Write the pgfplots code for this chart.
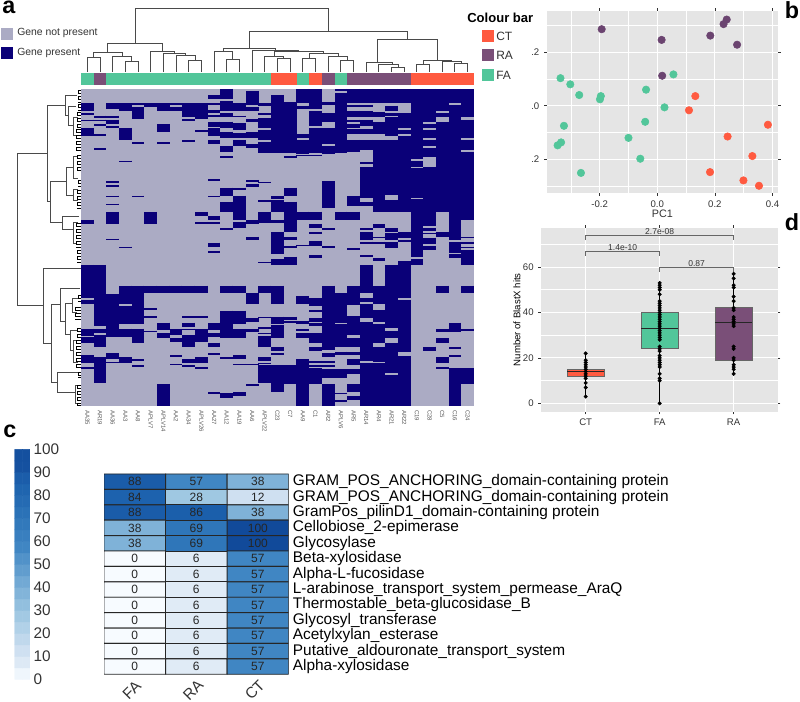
\documentclass[border=0pt]{standalone}
\usepackage{fontspec}
\setmainfont{Liberation Sans}
\usepackage{pgfplots}
\usepackage{pgfplotstable}
\pgfplotsset{compat=1.18}
\pgfplotsset{/pgf/number format/assume math mode=true}

\newcommand{\fs}[1]{\fontsize{#1pt}{#1pt}\selectfont}
\definecolor{absent}{HTML}{ABABC4}
\definecolor{present}{HTML}{0A0078}
\definecolor{ctc}{HTML}{FF5A40}
\definecolor{rac}{HTML}{7A4F78}
\definecolor{rad}{HTML}{6B4470}
\definecolor{fac}{HTML}{52C69A}
\definecolor{panel}{HTML}{E5E5E5}
\definecolor{tree}{HTML}{4A4A4A}
\definecolor{ink}{HTML}{333333}

% panel a: dark runs per column, c = column, a b = start and end (3 units = 1 px, 0 = y 85)
\pgfplotstableread[row sep=\\]{c a b\\
0 55 78\\ 0 85 90\\ 0 104 109\\ 0 129 152\\ 0 405 416\\
1 92 98\\ 1 104 109\\ 1 117 122\\ 1 147 152\\ 1 190 195\\
2 55 72\\ 2 92 98\\ 2 104 116\\ 2 124 129\\ 2 289 293\\ 2 301 305\\ 2 332 337\\ 2 356 360\\ 2 381 416\\ 2 461 466\\
3 55 78\\ 3 129 165\\ 3 227 232\\ 3 485 490\\
4 55 60\\ 4 66 103\\ 4 172 176\\ 4 332 337\\
5 55 66\\ 5 381 416\\
6 55 78\\ 6 117 140\\ 6 172 176\\
7 55 60\\ 7 66 78\\
8 55 97\\ 8 103 108\\ 8 165 170\\
9 55 103\\ 9 135 140\\ 9 381 393\\ 9 411 416\\
10 30 42\\ 10 55 60\\ 10 75 85\\ 10 90 95\\ 10 110 125\\ 10 130 153\\ 10 165 177\\ 10 283 288\\ 10 332 337\\ 10 393 405\\ 10 411 416\\ 10 473 485\\
11 12 42\\ 11 48 78\\ 11 85 95\\ 11 110 130\\ 11 140 158\\ 11 183 202\\ 11 214 220\\ 11 308 332\\ 11 350 381\\ 11 429 434\\
12 55 78\\ 12 92 97\\ 12 115 135\\ 12 143 158\\ 12 165 183\\ 12 308 314\\ 12 332 405\\ 12 411 428\\
13 18 60\\ 13 66 78\\ 13 103 110\\ 13 140 160\\ 13 176 190\\ 13 285 290\\ 13 297 307\\ 13 405 416\\ 13 455 466\\
14 55 62\\ 14 85 90\\ 14 100 130\\ 14 135 165\\ 14 170 203\\ 14 290 295\\ 14 345 350\\ 14 380 415\\
15 30 203\\ 15 332 343\\ 15 345 380\\ 15 405 415\\ 15 440 495\\
16 52 203\\ 16 213 220\\ 16 308 332\\ 16 350 440\\ 16 455 465\\ 16 483 490\\
17 12 55\\ 17 62 72\\ 17 147 158\\ 17 165 208\\ 17 210 214\\ 17 380 405\\ 17 480 484\\
18 12 72\\ 18 78 122\\ 18 130 205\\ 18 209 214\\ 18 380 405\\ 18 417 430\\ 18 440 448\\ 18 467 484\\
19 52 60\\ 19 85 110\\ 19 130 177\\ 19 183 207\\ 19 289 368\\ 19 430 435\\ 19 484 490\\
20 12 18\\ 20 24 205\\ 20 380 405\\
21 12 55\\ 21 60 66\\ 21 78 97\\ 21 104 110\\ 21 118 128\\ 21 133 147\\ 21 165 200\\ 21 332 362\\ 21 380 405\\ 21 490 495\\
22 12 55\\ 22 60 66\\ 22 78 97\\ 22 104 122\\ 22 133 147\\ 22 165 195\\ 22 232 236\\ 22 246 340\\ 22 350 362\\ 22 430 435\\ 22 442 465\\ 22 470 476\\
23 12 55\\ 23 80 97\\ 23 110 147\\ 23 165 380\\ 23 417 430\\ 23 455 460\\ 23 470 476\\
24 12 55\\ 24 62 78\\ 24 85 92\\ 24 97 152\\ 24 165 330\\ 24 345 380\\ 24 430 440\\ 24 445 465\\ 24 470 490\\
25 12 55\\ 25 85 130\\ 25 135 147\\ 25 153 380\\ 25 442 460\\ 25 465 470\\
26 12 222\\ 26 228 245\\ 26 250 338\\ 26 343 495\\
27 12 110\\ 27 117 128\\ 27 135 158\\ 27 165 182\\ 27 190 215\\ 27 245 424\\ 27 430 438\\ 27 443 448\\ 27 458 478\\ 27 484 495\\
28 12 78\\ 28 85 97\\ 28 110 380\\ 28 440 455\\
29 12 55\\ 29 60 465\\ 29 472 495\\
30 12 97\\ 30 104 160\\ 30 165 195\\ 30 202 405\\ 30 455 458\\ 30 472 476\\ 30 485 490\\
}\darkupper

% same, lower half (0 = y 250)
\pgfplotstableread[row sep=\\]{c a b\\
0 45 143\\ 0 150 162\\ 0 236 258\\ 0 262 278\\ 0 316 340\\ 0 352 358\\
1 45 228\\ 1 236 250\\ 1 255 290\\ 1 322 400\\
2 132 262\\ 2 310 327\\ 2 335 340\\
3 107 162\\ 3 168 222\\ 3 236 262\\ 3 322 340\\
4 107 222\\ 4 236 278\\ 4 328 333\\ 4 346 352\\
5 107 130\\ 5 175 180\\ 5 199 204\\ 5 243 247\\
6 107 130\\ 6 218 241\\ 6 250 265\\ 6 402 468\\
7 107 130\\ 7 237 255\\ 7 265 277\\ 7 316 321\\ 7 342 346\\
8 107 130\\ 8 199 204\\ 8 218 230\\ 8 236 241\\ 8 255 290\\ 8 328 340\\ 8 346 352\\
9 107 130\\ 9 199 204\\ 9 237 277\\ 9 322 340\\ 9 352 358\\
10 2 8\\ 10 218 241\\ 10 248 262\\ 10 278 290\\ 10 310 315\\ 10 427 432\\
11 107 130\\ 11 182 236\\ 11 237 265\\ 11 322 327\\ 11 430 443\\
12 107 130\\ 12 182 222\\ 12 237 265\\ 12 316 327\\ 12 342 346\\ 12 427 437\\
13 130 162\\ 13 205 216\\ 13 237 247\\ 13 342 346\\ 13 402 407\\
14 35 40\\ 14 107 130\\ 14 200 204\\ 14 232 236\\ 14 248 253\\ 14 258 290\\ 14 322 333\\ 14 338 342\\ 14 346 400\\
15 0 12\\ 15 27 45\\ 15 107 162\\ 15 200 222\\ 15 225 265\\ 15 290 302\\ 15 308 316\\ 15 346 425\\
16 20 45\\ 16 200 210\\ 16 212 218\\ 16 346 402\\
17 138 162\\ 17 212 222\\ 17 237 243\\ 17 250 265\\ 17 328 468\\
18 15 25\\ 18 144 168\\ 18 180 186\\ 18 205 216\\ 18 220 228\\ 18 250 280\\ 18 290 302\\ 18 333 338\\ 18 346 352\\ 18 355 402\\
19 107 300\\ 19 310 322\\ 19 333 338\\ 19 346 352\\ 19 358 385\\ 19 402 468\\
20 130 218\\ 20 223 290\\ 20 305 315\\ 20 358 385\\ 20 428 433\\ 20 450 456\\
21 107 165\\ 21 198 255\\ 21 265 290\\ 21 305 316\\ 21 328 346\\ 21 358 372\\ 21 402 427\\ 21 437 450\\
22 15 20\\ 22 45 130\\ 22 143 155\\ 22 162 205\\ 22 216 333\\ 22 340 468\\
23 25 32\\ 23 107 162\\ 23 180 217\\ 23 223 278\\ 23 290 335\\ 23 340 468\\
24 45 235\\ 24 243 265\\ 24 278 368\\ 24 375 468\\
25 32 143\\ 25 150 305\\ 25 318 468\\
26 0 20\\ 26 27 45\\
27 290 302\\
28 107 130\\ 28 237 247\\ 28 265 278\\ 28 322 340\\ 28 352 358\\
29 0 8\\ 29 12 25\\ 29 218 247\\ 29 290 296\\ 29 316 321\\ 29 355 468\\
30 0 45\\ 30 107 130\\ 30 236 242\\ 30 355 402\\
}\darklower

% panel c
\pgfplotstableread{
x y v
0 0 88
1 0 57
2 0 38
0 1 84
1 1 28
2 1 12
0 2 88
1 2 86
2 2 38
0 3 38
1 3 69
2 3 100
0 4 38
1 4 69
2 4 100
0 5 0
1 5 6
2 5 57
0 6 0
1 6 6
2 6 57
0 7 0
1 7 6
2 7 57
0 8 0
1 8 6
2 8 57
0 9 0
1 9 6
2 9 57
0 10 0
1 10 6
2 10 57
0 11 0
1 11 6
2 11 57
0 12 0
1 12 6
2 12 57
}\percent

\pgfplotsset{
  blues/.style={colormap={blues}{rgb255(0)=(247,251,255) rgb255(6)=(224,235,246)
    rgb255(12)=(207,224,241) rgb255(28)=(159,200,226) rgb255(38)=(127,178,216)
    rgb255(57)=(64,134,195) rgb255(69)=(47,118,185) rgb255(84)=(29,98,174)
    rgb255(100)=(17,74,154)}, point meta min=0, point meta max=100},
  gg/.style={
    scale only axis, axis background/.style={fill=panel},
    axis line style={draw=none}, grid=both,
    major grid style={white, line width=0.75pt},
    minor grid style={white, line width=0.4pt},
    tick align=outside, major tick length=2pt, minor tick length=0pt,
    tick style={ink, line width=0.4pt},
    tick label style={font=\fs{7.2}, text=ink},
  },
}

\begin{document}
\begin{tikzpicture}
\useasboundingbox (0,0) rectangle (600pt,526.5pt);

% canvas in reference pixels: trees, swatches, texts
\begin{axis}[
  at={(0,0)}, anchor=south west, scale only axis, width=600pt, height=526.5pt,
  xmin=0, xmax=800, ymin=0, ymax=702, y dir=reverse, hide axis, clip=false,
  unbounded coords=jump]

\addplot[fill=absent, draw=none] coordinates {(0.7,28)(13,28)(13,40)(0.7,40)} --cycle;
\addplot[fill=present, draw=none] coordinates {(0.7,47)(13,47)(13,59)(0.7,59)} --cycle;
\addplot[fill=fac, draw=none] coordinates {(81,72.7)(93.7,72.7)(93.7,85.3)(81,85.3)} --cycle;
\addplot[fill=rac, draw=none] coordinates {(93.7,72.7)(106.4,72.7)(106.4,85.3)(93.7,85.3)} --cycle;
\addplot[fill=fac, draw=none] coordinates {(106.4,72.7)(271.3,72.7)(271.3,85.3)(106.4,85.3)} --cycle;
\addplot[fill=ctc, draw=none] coordinates {(271.3,72.7)(296.7,72.7)(296.7,85.3)(271.3,85.3)} --cycle;
\addplot[fill=fac, draw=none] coordinates {(296.7,72.7)(309.3,72.7)(309.3,85.3)(296.7,85.3)} --cycle;
\addplot[fill=ctc, draw=none] coordinates {(309.3,72.7)(322,72.7)(322,85.3)(309.3,85.3)} --cycle;
\addplot[fill=rac, draw=none] coordinates {(322,72.7)(334.7,72.7)(334.7,85.3)(322,85.3)} --cycle;
\addplot[fill=fac, draw=none] coordinates {(334.7,72.7)(347.4,72.7)(347.4,85.3)(334.7,85.3)} --cycle;
\addplot[fill=rac, draw=none] coordinates {(347.4,72.7)(411,72.7)(411,85.3)(347.4,85.3)} --cycle;
\addplot[fill=ctc, draw=none] coordinates {(411,72.7)(474,72.7)(474,85.3)(411,85.3)} --cycle;
\addplot[fill=ctc, draw=none] coordinates {(482,30)(494,30)(494,42)(482,42)} --cycle;
\addplot[fill=rac, draw=none] coordinates {(482,49)(494,49)(494,61)(482,61)} --cycle;
\addplot[fill=fac, draw=none] coordinates {(482,69)(494,69)(494,81)(482,81)} --cycle;

% top tree
\addplot[tree, line width=0.6pt] coordinates {
(135,43.7)(135,8.3)(328.7,8.3)(328.7,31.7)(nan,nan)
(107.7,52.3)(107.7,43.7)(162.7,43.7)(162.7,51)(nan,nan)
(93.7,57.3)(93.7,52.3)(122,52.3)(122,56)(nan,nan)
(87.3,71.7)(87.3,57.3)(100,57.3)(100,71.7)(nan,nan)
(112.7,71.7)(112.7,56)(131.7,56)(131.7,61)(nan,nan)
(125.3,71.7)(125.3,61)(138,61)(138,71.7)(nan,nan)
(150.7,71.7)(150.7,51)(174.7,51)(174.7,53.3)(nan,nan)
(163.3,71.7)(163.3,53.3)(185,53.3)(185,55)(nan,nan)
(176,71.7)(176,55)(195,55)(195,60.3)(nan,nan)
(188.7,71.7)(188.7,60.3)(201.3,60.3)(201.3,71.7)(nan,nan)
(249.7,48.3)(249.7,31.7)(407.7,31.7)(407.7,39.7)(nan,nan)
(223.3,51.7)(223.3,48.3)(275.3,48.3)(275.3,50.7)(nan,nan)
(214,71.7)(214,51.7)(232.7,51.7)(232.7,59.7)(nan,nan)
(226.7,71.7)(226.7,59.7)(239.3,59.7)(239.3,71.7)(nan,nan)
(252,71.7)(252,50.7)(298,50.7)(298,51.7)(nan,nan)
(274.3,56.7)(274.3,51.7)(323.3,51.7)(323.3,53.3)(nan,nan)
(264.7,71.7)(264.7,56.7)(283.7,56.7)(283.7,58.7)(nan,nan)
(277.3,71.7)(277.3,58.7)(290,58.7)(290,71.7)(nan,nan)
(309,58.7)(309,53.3)(338.3,53.3)(338.3,56.7)(nan,nan)
(302.7,71.7)(302.7,58.7)(315.3,58.7)(315.3,71.7)(nan,nan)
(328,71.7)(328,56.7)(347,56.7)(347,60)(nan,nan)
(340.7,71.7)(340.7,60)(353.3,60)(353.3,71.7)(nan,nan)
(377.3,62.3)(377.3,39.7)(437.7,39.7)(437.7,60)(nan,nan)
(366,71.7)(366,62.3)(392.3,62.3)(392.3,64.7)(nan,nan)
(378.7,71.7)(378.7,64.7)(398,64.7)(398,67)(nan,nan)
(391.3,71.7)(391.3,67)(404,67)(404,71.7)(nan,nan)
(423,64.7)(423,60)(451.7,60)(451.7,61)(nan,nan)
(416.7,71.7)(416.7,64.7)(429.3,64.7)(429.3,71.7)(nan,nan)
(442,71.7)(442,61)(461,61)(461,63.3)(nan,nan)
(454.7,71.7)(454.7,63.3)(467.3,63.3)(467.3,71.7)
};

% left tree
\addplot[tree, line width=0.6pt] coordinates {
(47,153)(17.5,153)(17.5,305)(43,305)(nan,nan)
(65,105)(47,105)(47,201.7)(50,201.7)(nan,nan)
(77,95)(65,95)(65,115)(68,115)(nan,nan)
(76,106)(68,106)(68,125)(73,125)(nan,nan)
(78,117)(73,117)(73,135)(76,135)(nan,nan)
(66,181)(50,181)(50,222)(62,222)(nan,nan)
(73,167)(66,167)(66,195)(73,195)(nan,nan)
(78,156)(73,156)(73,178)(78,178)(nan,nan)
(78,189)(73,189)(73,200)(78,200)(nan,nan)
(79,216)(62,216)(62,229)(73,229)(nan,nan)
(78,222)(73,222)(73,243)(77,243)(nan,nan)
(81,268)(43,268)(43,343)(51,343)(nan,nan)
(60,304)(51,304)(51,382)(57,382)(nan,nan)
(80,288)(60,288)(60,321)(65,321)(nan,nan)
(72,303)(65,303)(65,334)(70,334)(nan,nan)
(78,298)(72,298)(72,312)(77,312)(nan,nan)
(78,330)(70,330)(70,350)(73,350)(nan,nan)
(78,340)(73,340)(73,362)(78,362)(nan,nan)
(78,372)(57,372)(57,392)(75,392)(nan,nan)
(79,385)(75,385)(75,403)(79,403)
};

% tree tips
\addplot[black, line width=0.4pt] coordinates {
(81,90)(78,90)(78,93)(81,93)(81,96)(78,96)(78,99)(81,99)(81,102)(78,102)(nan,nan)
(81,104)(78,104)(78,107)(81,107)(81,110)(78,110)(nan,nan)
(81,112)(77,112)(77,115)(81,115)(81,118)(77,118)(77,121)(81,121)(81,124)(77,124)(77,127)(81,127)(nan,nan)
(81,129)(76,129)(76,132)(81,132)(81,135)(76,135)(76,138)(81,138)(81,141)(76,141)(76,144)(81,144)(81,147)(76,147)(76,150)(81,150)(nan,nan)
(81,155)(77,155)(77,158)(81,158)(81,161)(77,161)(77,164)(81,164)(81,167)(77,167)(77,170)(81,170)(nan,nan)
(81,180)(78,180)(78,183)(81,183)(81,186)(78,186)(nan,nan)
(81,190)(77,190)(77,193)(81,193)(81,196)(77,196)(77,199)(81,199)(81,202)(77,202)(77,205)(81,205)(81,208)(77,208)(nan,nan)
(81,223)(76,223)(76,226)(81,226)(81,229)(76,229)(76,232)(81,232)(81,235)(76,235)(76,238)(81,238)(81,241)(76,241)(76,244)(81,244)(81,247)(76,247)(nan,nan)
(81,250)(77,250)(77,253)(81,253)(81,256)(77,256)(77,259)(81,259)(81,262)(77,262)(nan,nan)
(81,295)(78,295)(78,298)(81,298)(81,301)(78,301)(nan,nan)
(81,307)(75,307)(75,310)(81,310)(81,313)(75,313)(75,316)(81,316)(81,319)(75,319)(nan,nan)
(81,328)(77,328)(77,331)(81,331)(81,334)(77,334)(77,337)(81,337)(nan,nan)
(81,340)(76,340)(76,343)(81,343)(81,346)(76,346)(76,349)(81,349)(81,352)(76,352)(76,355)(81,355)(81,358)(76,358)(76,361)(81,361)(81,364)(76,364)(76,367)(81,367)(nan,nan)
(81,372)(78,372)(78,375)(81,375)(81,377)(78,377)(nan,nan)
(81,385)(77,385)(77,388)(81,388)(81,391)(77,391)(77,394)(81,394)(81,397)(77,397)(77,400)(81,400)(81,403)(77,403)(77,405)(81,405)
};

% texts
\node[anchor=north west, inner sep=0pt, font=\bfseries\fs{17.5}] at (2,0.5) {a};
\node[anchor=north east, inner sep=0pt, font=\bfseries\fs{17.5}] at (799.5,1) {b};
\node[anchor=north west, inner sep=0pt, font=\bfseries\fs{17.5}] at (3,425) {c};
\node[anchor=north east, inner sep=0pt, font=\bfseries\fs{17.5}] at (799.5,213) {d};
\node[anchor=west, inner sep=0pt, font=\fs{7.8}, text=ink] at (17,33) {Gene not present};
\node[anchor=west, inner sep=0pt, font=\fs{7.8}, text=ink] at (17,53) {Gene present};
\node[anchor=west, inner sep=0pt, font=\bfseries\fs{9.8}] at (467,17.5) {Colour bar};
\node[anchor=west, inner sep=0pt, font=\fs{9}, text=ink] at (496,36) {CT};
\node[anchor=west, inner sep=0pt, font=\fs{9}, text=ink] at (496,55) {RA};
\node[anchor=west, inner sep=0pt, font=\fs{9}, text=ink] at (496,75) {FA};
\end{axis}

% panel a heat map
\begin{axis}[
  at={(60.75pt,222pt)}, anchor=south west, scale only axis, width=294.75pt, height=237.75pt,
  xmin=0, xmax=31, ymin=12, ymax=963, y dir=reverse,
  axis background/.style={fill=absent}, axis line style={draw=none},
  ytick=\empty, major tick length=0pt,
  xtick={0.5,1.5,...,30.5},
  xticklabels={AA35,AR19,AA36,AA3,AA8,APLV7,APLV14,AA2,AA34,APLV26,AA27,AA12,AA19,AA6,APLV22,C23,C7,AA9,C1,AR2,APLV6,AR5,AR14,AR4,AR21,AR22,C19,C28,C5,C16,C24},
  xticklabel style={rotate=-90, anchor=west, font=\fs{4.5}, text=black!65, inner sep=0pt, xshift=3pt},
]
\addplot[draw=none, no markers, error bars/.cd, y dir=plus, y explicit, error mark=none,
  error bar style={present, line width=9.55pt}]
  table[x expr=\thisrow{c}+0.5, y=a, y error expr=\thisrow{b}-\thisrow{a}] {\darkupper};
\addplot[draw=none, no markers, error bars/.cd, y dir=plus, y explicit, error mark=none,
  error bar style={present, line width=9.55pt}]
  table[x expr=\thisrow{c}+0.5, y expr=\thisrow{a}+495, y error expr=\thisrow{b}-\thisrow{a}] {\darklower};
\end{axis}

% panel b
\begin{axis}[gg,
  at={(410pt,381.75pt)}, anchor=south west, width=173.5pt, height=136.5pt,
  xmin=-0.384, xmax=0.419, ymin=-0.326, ymax=0.354,
  xtick={-0.2,0,0.2,0.4}, xticklabels={-0.2,0.0,0.2,0.4},
  minor xtick={-0.3,-0.1,0.1,0.3},
  ytick={-0.2,0,0.2}, yticklabels={.2,.0,.2},
  minor ytick={-0.3,-0.1,0.1,0.3},
  xlabel={PC1}, xlabel style={font=\fs{8.1}, text=ink, yshift=5pt},
]
\addplot[only marks, mark=*, mark size=2.8pt, mark options={draw=rad, fill=rad}] coordinates {
(-0.193,0.286)(0.015,0.246)(0.184,0.262)(0.277,0.228)(0.241,0.322)(0.230,0.305)(0.017,0.112)};
\addplot[only marks, mark=*, mark size=2.8pt, mark options={draw=fac, fill=fac}] coordinates {
(0.056,0.117)(-0.336,0.103)(-0.302,0.080)(-0.271,0.040)(-0.196,0.036)(-0.199,0.024)(-0.039,0.060)
(0.025,-0.006)(-0.042,-0.060)(-0.324,-0.075)(-0.334,-0.137)(-0.346,-0.148)(-0.100,-0.120)(-0.059,-0.198)(-0.265,-0.251)};
\addplot[only marks, mark=*, mark size=2.8pt, mark options={draw=ctc, fill=ctc}] coordinates {
(0.132,0.036)(0.110,-0.017)(0.384,-0.071)(0.244,-0.115)(0.330,-0.188)(0.183,-0.248)(0.299,-0.279)(0.353,-0.299)};
\end{axis}

% panel d
\begin{axis}[gg,
  at={(405.75pt,217.7pt)}, anchor=south west, width=177.5pt, height=138pt,
  xmin=0.396, xmax=3.595, ymin=-3.67, ymax=77.3,
  xtick={1,2,3}, xticklabels={CT,FA,RA}, ytick={0,20,40,60},
  minor ytick={10,30,50,70},
  ylabel={Number of BlastX hits}, ylabel style={font=\fs{7.2}, text=black, yshift=-5pt},
]
\addplot[black, line width=0.5pt] coordinates {(1,3)(1,22)};
\addplot[black, line width=0.5pt] coordinates {(2,0)(2,53)};
\addplot[black, line width=0.5pt] coordinates {(3,13)(3,57)};
\addplot[draw=black!60, line width=0.7pt, fill=ctc] coordinates {(0.75,12)(1.25,12)(1.25,15)(0.75,15)} --cycle;
\addplot[draw=black!60, line width=0.7pt, fill=fac] coordinates {(1.75,24)(2.25,24)(2.25,40)(1.75,40)} --cycle;
\addplot[draw=black!60, line width=0.7pt, fill=rac] coordinates {(2.75,19)(3.25,19)(3.25,42)(2.75,42)} --cycle;
\addplot[black!85, line width=1pt] coordinates {(0.75,14)(1.25,14)};
\addplot[black!85, line width=1pt] coordinates {(1.75,33)(2.25,33)};
\addplot[black!85, line width=1pt] coordinates {(2.75,35.5)(3.25,35.5)};
\addplot[only marks, mark=*, mark size=1.3pt, black] coordinates {
(1,3)(1,7)(1,9)(1,11)(1,12)(1,13)(1,14)(1,15)(1,16)(1,17)(1,18)(1,19)(1,22)
(2,0)(2,10)(2,11)(2,13)(2,16)(2,17)(2,18)(2,19)(2,20)(2,21)(2,23)(2,24)(2,25)
(2,28)(2,29)(2,30)(2,31)(2,32)(2,33)(2,34)(2,35)(2,36)(2,37)(2,38)(2,39)(2,40)
(2,41)(2,42)(2,43)(2,44)(2,45)(2,48)(2,50)(2,51)(2,52)(2,53)
(3,13)(3,15)(3,16)(3,17)(3,19)(3,20)(3,24)(3,25)(3,34)(3,35)(3,36)(3,37)(3,38)
(3,41)(3,42)(3,45)(3,47)(3,51)(3,52)(3,55)(3,57)};
\addplot[black!60, line width=0.5pt] coordinates {(1,71.8)(1,73.75)(3,73.75)(3,71.8)};
\addplot[black!60, line width=0.5pt] coordinates {(1,65)(1,66.9)(2,66.9)(2,65)};
\addplot[black!60, line width=0.5pt] coordinates {(2,58)(2,59.8)(3,59.8)(3,58)};
\node[anchor=south, inner sep=0.5pt, font=\fs{6.4}, text=ink] at (2,73.9) {2.7e-08};
\node[anchor=south, inner sep=0.5pt, font=\fs{6.4}, text=ink] at (1.5,67) {1.4e-10};
\node[anchor=south, inner sep=0.5pt, font=\fs{6.4}, text=ink] at (2.5,59.9) {0.87};
\end{axis}

% panel c colour key
\begin{axis}[blues,
  at={(11pt,17pt)}, anchor=south west, scale only axis, width=11.5pt, height=172.5pt,
  xmin=-0.5, xmax=1.5, ymin=0, ymax=100, axis line style={draw=none},
  xtick=\empty, ytick={0,10,...,100}, yticklabel pos=right, major tick length=0pt,
  yticklabel style={font=\fs{11.5}, text=ink, anchor=west, inner sep=0pt, xshift=2.5pt},
]
\addplot[matrix plot*, draw=none, mesh/cols=2, point meta=explicit] table[row sep=\\, meta=v] {x y v\\
0 2.5 2\\ 1 2.5 2\\ 0 7.5 7\\ 1 7.5 7\\ 0 12.5 12\\ 1 12.5 12\\ 0 17.5 17\\ 1 17.5 17\\
0 22.5 22\\ 1 22.5 22\\ 0 27.5 27\\ 1 27.5 27\\ 0 32.5 32\\ 1 32.5 32\\ 0 37.5 37\\ 1 37.5 37\\
0 42.5 42\\ 1 42.5 42\\ 0 47.5 47\\ 1 47.5 47\\ 0 52.5 52\\ 1 52.5 52\\ 0 57.5 57\\ 1 57.5 57\\
0 62.5 62\\ 1 62.5 62\\ 0 67.5 67\\ 1 67.5 67\\ 0 72.5 72\\ 1 72.5 72\\ 0 77.5 77\\ 1 77.5 77\\
0 82.5 82\\ 1 82.5 82\\ 0 87.5 87\\ 1 87.5 87\\ 0 92.5 95\\ 1 92.5 95\\ 0 97.5 96\\ 1 97.5 96\\
};
\end{axis}

% panel c heat map
\begin{axis}[blues,
  at={(78pt,20.8pt)}, anchor=south west, scale only axis, width=138.5pt, height=150.2pt,
  xmin=-0.5, xmax=2.5, ymin=-0.5, ymax=12.5, y dir=reverse,
  axis line style={draw=none}, major tick length=0pt,
  xtick={0,1,2}, xticklabels={FA,RA,CT},
  xticklabel style={rotate=45, anchor=center, font=\fs{11.5}, text=ink, xshift=-10pt, yshift=-6.7pt},
  ytick={0,...,12}, yticklabel pos=right,
  yticklabels={GRAM\_POS\_ANCHORING\_domain-containing protein,GRAM\_POS\_ANCHORING\_domain-containing protein,GramPos\_pilinD1\_domain-containing protein,Cellobiose\_2-epimerase,Glycosylase,Beta-xylosidase,Alpha-L-fucosidase,L-arabinose\_transport\_system\_permease\_AraQ,Thermostable\_beta-glucosidase\_B,Glycosyl\_transferase,Acetylxylan\_esterase,Putative\_aldouronate\_transport\_system,Alpha-xylosidase},
  yticklabel style={font=\fs{11.55}, text=black, anchor=west, inner sep=0pt, xshift=3pt},
  nodes near coords={\pgfmathprintnumber{\pgfplotspointmeta}},
  every node near coord/.append style={anchor=center, font=\fs{9}, text=black!85},
]
\addplot[matrix plot*, draw=black!85, line width=0.7pt, mesh/cols=3, point meta=explicit] table[meta=v] {\percent};
\end{axis}
\end{tikzpicture}
\end{document}
